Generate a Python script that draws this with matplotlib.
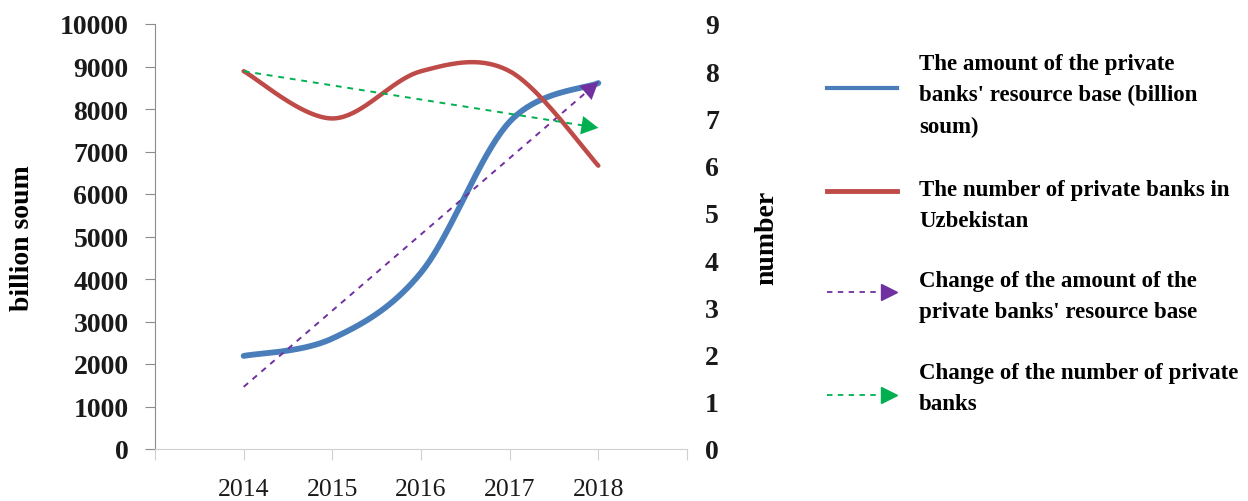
##############################
# private banks in Uzbekistan
# resource base vs number of banks
##############################

import numpy as np
import matplotlib.pyplot as plt
from matplotlib.lines import Line2D

years = ['2014', '2015', '2016', '2017', '2018']
resource_base = [2190, 2600, 4150, 7700, 8610]   # billion soum
num_banks = [8, 7, 8, 8, 6]

blue = '#4A7EBB'
red = '#BE4B48'
purple = '#7030A0'
green = '#00B050'
serif = 'Liberation Serif'


def smooth(x, y, n=40):
    # excel style smoothed line (catmull-rom bezier)
    x = np.asarray(x, float)
    y = np.asarray(y, float)
    px, py = [], []
    t = np.linspace(0, 1, n)
    for i in range(len(x) - 1):
        i0 = max(i - 1, 0)
        i3 = min(i + 2, len(x) - 1)
        c1x = x[i] + (x[i + 1] - x[i0]) / 6
        c1y = y[i] + (y[i + 1] - y[i0]) / 6
        c2x = x[i + 1] - (x[i3] - x[i]) / 6
        c2y = y[i + 1] - (y[i3] - y[i]) / 6
        bx = (1-t)**3*x[i] + 3*(1-t)**2*t*c1x + 3*(1-t)*t**2*c2x + t**3*x[i+1]
        by = (1-t)**3*y[i] + 3*(1-t)**2*t*c1y + 3*(1-t)*t**2*c2y + t**3*y[i+1]
        px.extend(bx)
        py.extend(by)
    return np.array(px), np.array(py)


def trend_arrow(axis, x, y, color):
    # linear trend line, dashed, with a triangle head at the end
    k, b = np.polyfit(x, y, 1)
    x0, x1 = x[0], x[-1]
    y0, y1 = k * x0 + b, k * x1 + b
    axis.plot([x0, x1], [y0, y1], color=color, lw=1.4, ls=(0, (3, 3)), zorder=4)
    xs = x1 - 0.12
    axis.annotate('', xy=(x1, y1), xytext=(xs, k * xs + b),
                  arrowprops=dict(arrowstyle='-|>,head_length=0.6,head_width=0.33',
                                  color=color, lw=0.1, mutation_scale=20,
                                  shrinkA=0, shrinkB=0), zorder=5)


fig = plt.figure(figsize=(12.48, 5.02), dpi=100)
ax = fig.add_axes([155/1248, 1 - 450/502, 532/1248, 425/502])
ax2 = ax.twinx()

x = np.arange(len(years))

sx, sy = smooth(x, resource_base)
ax.plot(sx, sy, color=blue, lw=4.2, solid_capstyle='round', zorder=3)
trend_arrow(ax, x, resource_base, purple)

rx, ry = smooth(x, num_banks)
ax2.plot(rx, ry, color=red, lw=3.2, solid_capstyle='round', zorder=3)
trend_arrow(ax2, x, num_banks, green)

ax.set_xlim(-1, 5)
ax.set_ylim(0, 10000)
ax2.set_ylim(0, 9)

ax.set_xticks(np.arange(-1, 6))
ax.set_xticklabels([''] + years + [''], fontfamily=serif, fontsize=18.5)
ax.set_yticks(np.arange(0, 10001, 1000))
ax.set_yticklabels([str(v) for v in range(0, 10001, 1000)],
                   fontfamily=serif, fontsize=20, fontweight='bold')
ax2.set_yticks(np.arange(0, 10))
ax2.set_yticklabels([str(v) for v in range(10)],
                    fontfamily=serif, fontsize=20, fontweight='bold')

for s in ['top', 'right']:
    ax.spines[s].set_visible(False)
ax.spines['left'].set_color('#8C8C8C')
ax.spines['bottom'].set_color('#D0D0D0')
ax.tick_params(axis='y', length=7, color='#8C8C8C', pad=12, labelcolor='#1a1a1a')
ax.tick_params(axis='x', length=8, color='#D0D0D0', pad=13, labelcolor='#1a1a1a')
for s in ax2.spines.values():
    s.set_visible(False)
ax2.tick_params(axis='y', length=0, pad=13, labelcolor='#1a1a1a')

fig.text(23/1248, 1 - 238/502, 'billion soum', rotation=90, ha='center', va='center',
         fontfamily=serif, fontsize=20, fontweight='bold')
fig.text(767/1248, 1 - 238/502, 'number', rotation=90, ha='center', va='center',
         fontfamily=serif, fontsize=20, fontweight='bold')

# legend drawn by hand
legend_items = [
    (blue, '-', 3, 89, 96, "The amount of the private\nbanks' resource base (billion\nsoum)", False),
    (red, '-', 3.5, 192, 206, "The number of private banks in\nUzbekistan", False),
    (purple, (0, (3, 3)), 1.3, 293, 297, "Change of the amount of the\nprivate banks' resource base", True),
    (green, (0, (3, 3)), 1.3, 396, 389, "Change of the number of private\nbanks", True),
]
for col, ls, lw, yh, yt, label, head in legend_items:
    yf = 1 - yh / 502
    fig.add_artist(Line2D([827/1248, 885/1248 if head else 897/1248], [yf, yf],
                          color=col, ls=ls, lw=lw, transform=fig.transFigure))
    if head:
        fig.add_artist(Line2D([889/1248], [yf], marker='>', ms=12, color=col,
                              mec=col, ls='none', transform=fig.transFigure))
    fig.text(919/1248, 1 - yt / 502, label, ha='left', va='center',
             fontfamily=serif, fontsize=16.5, fontweight='bold', linespacing=1.65)

plt.savefig('out.png', dpi=100)
